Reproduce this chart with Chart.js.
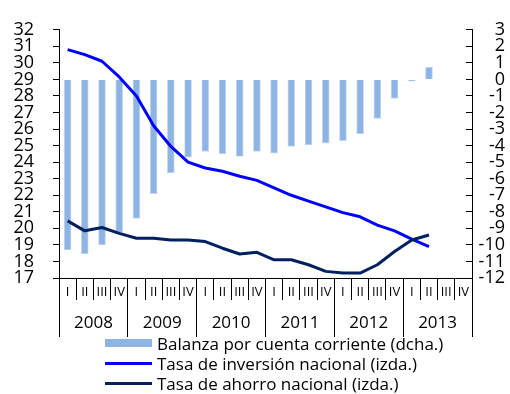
<!DOCTYPE html>
<html>
<head>
<meta charset="utf-8">
<script src="https://cdn.jsdelivr.net/npm/chart.js@4/dist/chart.umd.min.js"></script>
<style>
  html, body { margin: 0; padding: 0; background: #fff; }
  #wrap { position: relative; width: 510px; height: 394px; }
  #legend { position: absolute; left: 105px; top: 333px; font-family: 'Open Sans', sans-serif; font-size: 17px; color: #000; }
  .item { position: absolute; left: 0; height: 20px; display: flex; align-items: center; white-space: nowrap; }
  .sw { width: 47px; margin-right: 5px; flex: none; }
</style>
</head>
<body>
<div id="wrap">
  <canvas id="chart" width="510" height="394"></canvas>
  <div id="legend"></div>
</div>
<script>
// Quarters 2008 Q1 – 2013 Q4
const quarterLabels = ['I','II','III','IV','I','II','III','IV','I','II','III','IV',
                       'I','II','III','IV','I','II','III','IV','I','II','III','IV'];
const yearLabels = ['2008', '2009', '2010', '2011', '2012', '2013'];

// Current account balance, % of GDP (right axis)
const balanza = [-10.3, -10.55, -10.0, -9.25, -8.4, -6.9, -5.65, -4.7, -4.35, -4.5, -4.65, -4.35,
                 -4.45, -4.05, -3.95, -3.85, -3.7, -3.3, -2.35, -1.15, -0.1, 0.75];
// National investment rate, % of GDP (left axis)
const inversion = [30.8, 30.5, 30.1, 29.15, 28.0, 26.2, 24.95, 24.0, 23.65, 23.45, 23.15, 22.9,
                   22.45, 22.0, 21.65, 21.3, 20.95, 20.7, 20.2, 19.85, 19.35, 18.9];
// National saving rate, % of GDP (left axis)
const ahorro = [20.45, 19.85, 20.05, 19.7, 19.4, 19.4, 19.3, 19.3, 19.2, 18.8, 18.45, 18.55,
                18.1, 18.1, 17.8, 17.4, 17.3, 17.3, 17.8, 18.6, 19.3, 19.6];

const leftRange = [17, 32];
const rightRange = [-12, 3];

const FONT = "'Open Sans', sans-serif";
const BLACK = '#000';

const chart = new Chart(document.getElementById('chart'), {
  type: 'bar',
  data: {
    labels: quarterLabels,
    datasets: [
      {
        type: 'bar',
        label: 'Balanza por cuenta corriente (dcha.)',
        data: balanza,
        xAxisID: 'x',
        yAxisID: 'yR',
        backgroundColor: '#8DB4E2',
        borderColor: '#C6D9F1',
        borderWidth: 1,
        barThickness: 7,
        order: 2
      },
      {
        type: 'line',
        label: 'Tasa de inversión nacional (izda.)',
        data: inversion,
        xAxisID: 'x',
        yAxisID: 'yL',
        borderColor: '#0000FF',
        borderWidth: 3,
        pointRadius: 0,
        tension: 0,
        borderJoinStyle: 'round',
        order: 1
      },
      {
        type: 'line',
        label: 'Tasa de ahorro nacional (izda.)',
        data: ahorro,
        xAxisID: 'x',
        yAxisID: 'yL',
        borderColor: '#002060',
        borderWidth: 3,
        pointRadius: 0,
        tension: 0,
        borderJoinStyle: 'round',
        order: 0
      }
    ]
  },
  options: {
    responsive: false,
    animation: false,
    layout: { padding: { top: 15, right: 5, bottom: 57, left: 0 } },
    plugins: { legend: { display: false }, tooltip: { enabled: false } },
    scales: {
      x: {
        type: 'category',
        position: 'bottom',
        weight: 0,
        offset: true,
        grid: { offset: true, drawOnChartArea: false, color: BLACK, lineWidth: 1, tickLength: 22 },
        border: { color: BLACK, width: 1 },
        ticks: { color: BLACK, font: { family: FONT, size: 13 }, padding: -16, autoSkip: false, maxRotation: 0 },
        afterFit(s) { s.height = 22; }
      },
      xYears: {
        type: 'linear',
        axis: 'x',
        position: 'bottom',
        weight: 1,
        min: 0,
        max: quarterLabels.length,
        offset: false,
        grid: {
          offset: false,
          drawOnChartArea: false,
          lineWidth: 1,
          tickLength: 37,
          color: (c) => (c.tick && c.tick.value % 4 === 0) ? BLACK : 'rgba(0,0,0,0)'
        },
        border: { display: false },
        ticks: {
          stepSize: 2,
          autoSkip: false,
          maxRotation: 0,
          color: BLACK,
          font: { family: FONT, size: 17 },
          padding: -24,
          callback: (v) => (v % 4 === 2) ? yearLabels[(v - 2) / 4] : ''
        },
        afterFit(s) { s.height = 37; }
      },
      yL: {
        type: 'linear',
        position: 'left',
        min: leftRange[0],
        max: leftRange[1],
        grid: { drawOnChartArea: false, color: BLACK, tickLength: 6 },
        border: { color: BLACK, width: 1 },
        ticks: { stepSize: 1, autoSkip: false, color: BLACK, font: { family: FONT, size: 18 }, padding: 19 },
        afterFit(s) { s.width = 59; }
      },
      yR: {
        type: 'linear',
        position: 'right',
        min: rightRange[0],
        max: rightRange[1],
        grid: { drawOnChartArea: false, color: BLACK, tickLength: -6 },
        border: { color: BLACK, width: 1 },
        ticks: { stepSize: 1, autoSkip: false, color: BLACK, font: { family: FONT, size: 18 }, crossAlign: 'far' },
        afterFit(s) { s.width = 33; }
      }
    }
  }
});

// Legend built from the chart's datasets, one entry per row
const legendEl = document.getElementById('legend');
chart.data.datasets.forEach((ds, i) => {
  const item = document.createElement('div');
  item.className = 'item';
  item.style.top = (i * 20) + 'px';
  const sw = document.createElement('span');
  sw.className = 'sw';
  if (ds.type === 'bar') {
    sw.style.height = '8px';
    sw.style.background = ds.backgroundColor;
  } else {
    sw.style.height = '3px';
    sw.style.background = ds.borderColor;
  }
  const txt = document.createElement('span');
  txt.textContent = ds.label;
  item.appendChild(sw);
  item.appendChild(txt);
  legendEl.appendChild(item);
});
</script>
</body>
</html>
